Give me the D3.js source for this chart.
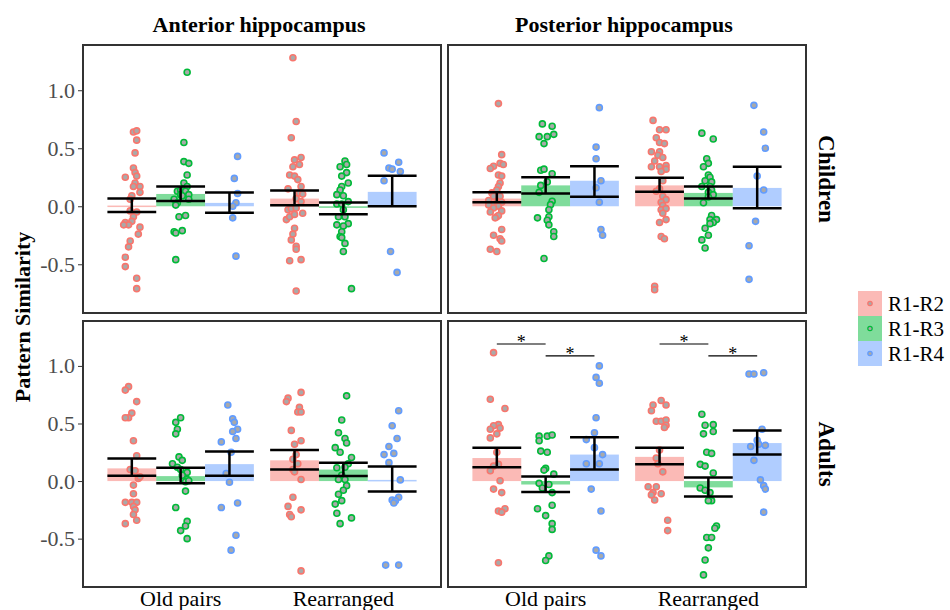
<!DOCTYPE html>
<html>
<head>
<meta charset="utf-8">
<script src="https://cdn.jsdelivr.net/npm/d3@7"></script>
<style>
  body { margin: 0; background: #fff; }
  svg { display: block; }
  svg text { font-family: "Liberation Serif", "DejaVu Serif", serif; }
</style>
</head>
<body>
<svg width="950" height="610"></svg>
<script>
const regions = ['Anterior hippocampus', 'Posterior hippocampus'];
const ageGroups = ['Children', 'Adults'];
const conditions = ['Old pairs', 'Rearranged'];
const comparisons = ['R1-R2', 'R1-R3', 'R1-R4'];
const colors = ['#F8766D', '#00BA38', '#619CFF'];
const yTicks = [-0.5, 0, 0.5, 1.0];

// order: Old pairs R1-R2, R1-R3, R1-R4, Rearranged R1-R2, R1-R3, R1-R4
const antChildMean = [0.006, 0.106, 0.029, 0.066, -0.014, 0.124];
const antChildLo   = [-0.049, 0.046, -0.055, 0.009, -0.069, 0.0];
const antChildHi   = [0.066, 0.17, 0.118, 0.135, 0.032, 0.264];

const postChildMean = [0.066, 0.18, 0.22, 0.18, 0.115, 0.158];
const postChildLo   = [0.035, 0.11, 0.083, 0.126, 0.066, -0.017];
const postChildHi   = [0.12, 0.25, 0.345, 0.245, 0.17, 0.34];

const antAdultMean = [0.11, 0.043, 0.147, 0.18, 0.10, 0.01];
const antAdultLo   = [0.046, -0.02, 0.046, 0.10, 0.043, -0.09];
const antAdultHi   = [0.197, 0.116, 0.257, 0.27, 0.16, 0.127];

const postAdultMean = [0.20, -0.03, 0.23, 0.21, -0.055, 0.33];
const postAdultLo   = [0.12, -0.095, 0.10, 0.145, -0.135, 0.23];
const postAdultHi   = [0.29, 0.04, 0.38, 0.29, 0.03, 0.44];

// individual subjects: [jitter, value]
const antChildPts = [
  [[.01,.64],[.03,.65],[.03,.57],[.02,.46],[.01,.33],[.02,.29],[.03,.26],[-.04,.25],[.02,.20],[.01,.17],[.05,.17],[.05,.12],[0,.09],[-.01,.06],[-.01,-.04],[.03,-.05],[.01,-.09],[0,-.13],[-.04,-.14],[-.02,-.16],[-.05,-.16],[.05,-.18],[.04,-.24],[-.01,-.30],[-.02,-.35],[-.04,-.44],[-.04,-.52],[.03,-.62],[.03,-.71]],
  [[.04,1.155],[.02,.55],[.02,.385],[.05,.37],[.04,.27],[.02,.20],[.04,.17],[-.02,.13],[0,.14],[.03,.13],[0,.10],[.05,.10],[.01,.09],[-.04,.06],[.05,.06],[-.02,.03],[-.03,.01],[.03,-.08],[-.01,-.09],[.01,-.21],[-.04,-.22],[-.03,-.23],[-.03,-.46]],
  [[.05,.43],[.03,.24],[.05,.11],[.04,.03],[.02,0],[.02,-.10],[.04,-.43]],
  [[-.01,1.28],[.01,.73],[-.02,.59],[.04,.42],[0,.40],[.03,.36],[-.01,.34],[-.03,.27],[0,.26],[.02,.23],[.04,.17],[-.04,.15],[.03,.115],[.05,.105],[.01,.066],[.04,.04],[-.04,-.03],[-.02,-.02],[.01,-.015],[.05,-.06],[-.05,-.115],[-.03,-.09],[0,-.07],[0,-.19],[-.01,-.24],[-.02,-.29],[.01,-.345],[.01,-.37],[.04,-.46],[-.03,-.47],[.01,-.73]],
  [[.01,.39],[.02,.36],[-.02,.34],[.02,.29],[-.01,.26],[.03,.20],[-.01,.17],[-.02,.14],[-.04,.10],[0,.09],[.03,.04],[-.04,.02],[-.01,.02],[0,-.03],[-.03,-.09],[.01,-.09],[.03,-.15],[-.04,-.16],[0,-.17],[-.01,-.22],[-.02,-.26],[-.01,-.27],[.01,-.32],[0,-.39],[.05,-.71]],
  [[-.05,.46],[.04,.38],[-.02,.33],[0,.32],[.05,.30],[-.05,.22],[-.01,-.39],[.03,-.57]]
];

const postChildPts = [
  [[.01,.885],[.03,.445],[.02,.37],[-.02,.345],[-.04,.325],[.04,.36],[.01,.27],[.03,.26],[.02,.20],[.01,.17],[-.03,.115],[0,.14],[-.02,.086],[.02,.086],[-.05,.05],[0,.034],[.03,.034],[-.03,.017],[-.05,.01],[.01,0],[-.02,-.015],[.03,-.04],[-.04,-.05],[0,-.09],[.01,-.08],[-.01,-.10],[.03,-.20],[-.02,-.25],[.02,-.28],[.03,-.30],[-.04,-.37],[0,-.39]],
  [[-.02,.71],[.04,.69],[-.04,.60],[.01,.60],[.05,.62],[-.01,.54],[-.03,.31],[-.01,.32],[.04,.28],[.01,.21],[-.03,.18],[-.04,.12],[.04,.043],[.03,.014],[.02,-.03],[.02,-.09],[-.05,-.10],[.01,-.12],[.02,-.16],[.05,-.22],[.05,-.26],[-.01,-.45]],
  [[.03,.85],[.01,.51],[.01,.41],[.04,.22],[.01,.16],[.03,.034],[.04,-.20],[.05,-.25]],
  [[-.04,.74],[0,.66],[.04,.66],[-.02,.59],[0,.55],[.03,.54],[-.05,.47],[0,.47],[-.01,.44],[.02,.42],[-.03,.39],[.04,.35],[-.05,.34],[0,.34],[.04,.32],[.01,.30],[.02,.22],[0,.15],[-.02,.13],[.02,.086],[.04,.057],[.01,.034],[.02,.006],[.01,-.03],[.04,-.02],[.02,-.06],[0,-.14],[.04,-.115],[.01,-.26],[.03,-.28],[-.03,-.69],[-.03,-.72]],
  [[-.04,.63],[.03,.58],[-.01,.41],[0,.37],[-.03,.34],[0,.27],[.01,.25],[-.02,.22],[.02,.21],[-.04,.17],[.01,.17],[.02,.14],[0,.12],[.03,.10],[0,.08],[-.03,.03],[.02,-.08],[.01,-.115],[.05,-.115],[.03,-.14],[.01,-.15],[-.02,-.19],[0,-.25],[-.04,-.29],[-.02,-.36]],
  [[-.02,.87],[.04,.64],[.05,.50],[0,.26],[.04,.14],[-.01,-.13],[-.05,-.34],[-.05,-.63]]
];

const antAdultPts = [
  [[-.02,.82],[-.04,.79],[.03,.69],[0,.59],[-.02,.55],[-.04,.55],[.01,.35],[.03,.22],[-.01,.10],[.02,.09],[.04,.023],[.05,.038],[.01,-.035],[.01,-.11],[-.04,-.185],[0,-.185],[.03,-.185],[.01,-.22],[.02,-.25],[.01,-.29],[.03,-.34],[-.04,-.37]],
  [[0,.55],[-.03,.51],[-.02,.45],[-.03,.41],[-.01,.21],[.01,.18],[-.05,.15],[-.02,.12],[0,.10],[.04,.075],[.01,.05],[.04,.014],[.03,-.006],[.05,.003],[.03,-.087],[-.03,-.23],[.04,-.35],[.03,-.39],[0,-.43],[.04,-.50]],
  [[-.01,.66],[.02,.54],[.03,.51],[.05,.45],[.02,.43],[.04,.37],[-.05,.34],[.01,.25],[-.02,.066],[0,-.01],[.05,-.19],[-.05,-.23],[.04,-.47],[.01,-.60]],
  [[.04,.77],[-.04,.72],[-.05,.69],[.03,.64],[.02,.60],[.04,.60],[-.02,.44],[.04,.35],[0,.32],[.01,.23],[-.01,.19],[.02,.15],[-.01,.10],[0,.08],[.04,.014],[-.01,-.14],[-.04,-.22],[-.03,-.29],[-.02,-.31],[.04,-.25],[.04,-.78]],
  [[.02,.74],[-.01,.53],[-.03,.42],[.01,.37],[.02,.33],[-.05,.29],[-.02,.25],[.05,.205],[.03,.15],[-.04,.115],[.01,.12],[-.01,.05],[-.03,.014],[.01,.014],[.02,-.04],[0,-.08],[-.03,-.115],[-.01,-.17],[-.05,-.20],[-.04,-.28],[.05,-.32],[-.02,-.37]],
  [[.04,.61],[0,.48],[.03,.37],[-.02,.30],[-.05,.23],[.01,.24],[-.02,.16],[.05,.01],[.04,-.14],[0,-.165],[.02,-.17],[.01,-.19],[-.04,-.73],[.04,-.73]]
];

const postAdultPts = [
  [[-.02,1.115],[-.04,.71],[.05,.63],[.01,.49],[-.02,.48],[-.04,.45],[.02,.46],[0,.41],[-.04,.375],[0,.25],[.01,.145],[-.02,.13],[-.04,.09],[.02,.003],[-.02,-.07],[.03,-.10],[.05,-.24],[.01,-.26],[.03,-.27],[.01,-.71]],
  [[-.04,.39],[.01,.39],[.04,.40],[-.04,.35],[-.03,.26],[.01,.25],[0,.11],[-.01,.095],[.05,.06],[-.04,-.02],[.02,-.03],[-.02,-.06],[.04,-.10],[.04,-.21],[-.05,-.24],[0,-.30],[.04,-.37],[.04,-.42],[.02,-.65],[0,-.69]],
  [[.03,1.00],[.01,.90],[.03,.85],[.01,.55],[0,.42],[-.05,.36],[0,.29],[.05,.23],[-.05,.15],[.03,.15],[-.02,-.07],[.04,-.26],[.01,-.60],[.04,-.65]],
  [[.01,.70],[-.04,.66],[.04,.66],[-.05,.61],[-.02,.52],[.01,.52],[.04,.53],[.04,.485],[.03,.465],[0,.27],[-.02,.20],[-.01,.15],[.02,.08],[-.07,-.05],[-.02,-.05],[-.04,-.10],[.01,-.11],[-.05,-.12],[-.03,-.165],[.05,-.34],[.05,-.43]],
  [[-.04,.58],[-.02,.485],[.03,.49],[-.03,.41],[.03,.43],[-.01,.25],[.02,.24],[-.05,.145],[-.02,.13],[.03,.07],[-.05,-.06],[-.02,-.08],[.01,-.10],[.02,-.17],[0,-.17],[.05,-.39],[.04,-.41],[-.01,-.49],[.02,-.49],[0,-.58],[-.02,-.685],[-.03,-.815]],
  [[-.05,.93],[-.02,.93],[.04,.94],[.03,.45],[0,.355],[-.04,.30],[.01,.32],[.05,.31],[-.02,.18],[.02,.01],[.04,-.04],[.05,-.07],[.04,-.27]]
];

// significance brackets (posterior hippocampus, adults)
const sigCondition = [0, 0, 1, 1];
const sigFrom = [0, 1, 0, 1];
const sigTo = [1, 2, 1, 2];
const sigY = [1.19, 1.087, 1.19, 1.087];

const panels = [
  { row: 0, col: 0, mean: antChildMean, lo: antChildLo, hi: antChildHi, pts: antChildPts },
  { row: 0, col: 1, mean: postChildMean, lo: postChildLo, hi: postChildHi, pts: postChildPts },
  { row: 1, col: 0, mean: antAdultMean, lo: antAdultLo, hi: antAdultHi, pts: antAdultPts },
  { row: 1, col: 1, mean: postAdultMean, lo: postAdultLo, hi: postAdultHi, pts: postAdultPts, sig: true }
];

const svg = d3.select('svg');
const font = '"Liberation Serif", "DejaVu Serif", serif';

const colX = [[83, 441], [448, 806]];
const rowY = [[45, 313], [321, 587]];
const yDomain = [-0.92, 1.39];
const dodge = 0.3;

// x position of a group (condition c, comparison k) in category units
const groupPos = (c, k) => (c + 1) + (k - 1) * dodge;

panels.forEach(p => {
  const [x0, x1] = colX[p.col];
  const [y0, y1] = rowY[p.row];
  const x = d3.scaleLinear().domain([0.4, 2.6]).range([x0, x1]);
  const y = d3.scaleLinear().domain(yDomain).range([y1, y0]);
  const g = svg.append('g');

  const bars = [];
  conditions.forEach((cond, c) => comparisons.forEach((cmp, k) => {
    const i = c * 3 + k;
    bars.push({ c, k, mean: p.mean[i], lo: p.lo[i], hi: p.hi[i], pts: p.pts[i] });
  }));

  // mean bars
  g.selectAll('rect.bar').data(bars).enter().append('rect')
    .attr('class', 'bar')
    .attr('x', d => x(groupPos(d.c, d.k) - dodge / 2))
    .attr('width', d => x(dodge) - x(0))
    .attr('y', d => Math.min(y(d.mean), y(0)))
    .attr('height', d => Math.max(Math.abs(y(d.mean) - y(0)), 1.5))
    .attr('fill', d => colors[d.k])
    .attr('fill-opacity', 0.5);

  // subject points
  bars.forEach(b => {
    g.selectAll(null).data(b.pts).enter().append('circle')
      .attr('cx', d => x(groupPos(b.c, b.k) + d[0]))
      .attr('cy', d => y(d[1]))
      .attr('r', 3)
      .attr('fill', '#a9a9a9')
      .attr('stroke', colors[b.k])
      .attr('stroke-width', 1.6);
  });

  // error bars
  const eb = g.selectAll('g.eb').data(bars).enter().append('g')
    .attr('stroke', '#000').attr('stroke-width', 2.5);
  eb.append('line')
    .attr('x1', d => x(groupPos(d.c, d.k) - dodge / 2))
    .attr('x2', d => x(groupPos(d.c, d.k) + dodge / 2))
    .attr('y1', d => y(d.hi)).attr('y2', d => y(d.hi));
  eb.append('line')
    .attr('x1', d => x(groupPos(d.c, d.k) - dodge / 2))
    .attr('x2', d => x(groupPos(d.c, d.k) + dodge / 2))
    .attr('y1', d => y(d.lo)).attr('y2', d => y(d.lo));
  eb.append('line')
    .attr('x1', d => x(groupPos(d.c, d.k)))
    .attr('x2', d => x(groupPos(d.c, d.k)))
    .attr('y1', d => y(d.lo)).attr('y2', d => y(d.hi));

  // significance
  if (p.sig) {
    sigY.forEach((v, i) => {
      const xa = x(groupPos(sigCondition[i], sigFrom[i]));
      const xb = x(groupPos(sigCondition[i], sigTo[i]));
      g.append('line')
        .attr('x1', xa).attr('x2', xb)
        .attr('y1', y(v)).attr('y2', y(v))
        .attr('stroke', '#000').attr('stroke-width', 1.1);
      g.append('text')
        .attr('x', (xa + xb) / 2).attr('y', y(v) + 4)
        .attr('text-anchor', 'middle')
        .attr('font-family', font)
        .style('font-size', '18px')
        .text('*');
    });
  }

  // panel border
  g.append('rect')
    .attr('x', x0).attr('y', y0)
    .attr('width', x1 - x0).attr('height', y1 - y0)
    .attr('fill', 'none').attr('stroke', '#333').attr('stroke-width', 2);

  // y axis on left column
  if (p.col === 0) {
    const ax = g.append('g')
      .attr('transform', `translate(${x0 - 1},0)`)
      .call(d3.axisLeft(y).tickValues(yTicks).tickFormat(d => d.toFixed(1)).tickSize(4).tickPadding(3));
    ax.attr('font-family', font);
    ax.select('.domain').remove();
    ax.selectAll('line').attr('stroke', '#333');
    ax.selectAll('text').attr('fill', '#4d4d4d').style('font-size', '22px');
  }

  // x labels on bottom row
  if (p.row === 1) {
    g.selectAll(null).data(conditions).enter().append('text')
      .attr('x', (d, i) => x(i + 1))
      .attr('y', y1 + 19)
      .attr('text-anchor', 'middle')
      .attr('font-family', font)
      .style('font-size', '22px')
      .attr('fill', '#000')
      .text(d => d);
  }

  // column titles
  if (p.row === 0) {
    svg.append('text')
      .attr('x', (x0 + x1) / 2 - 3).attr('y', 32)
      .attr('text-anchor', 'middle')
      .attr('font-family', font)
      .style('font-size', '22px').style('font-weight', 'bold')
      .text(regions[p.col]);
  }

  // row strips
  if (p.col === 1) {
    svg.append('text')
      .attr('transform', `translate(826,${(y0 + y1) / 2}) rotate(90)`)
      .attr('text-anchor', 'middle')
      .attr('dominant-baseline', 'central')
      .attr('font-family', font)
      .style('font-size', '23px').style('font-weight', 'bold')
      .text(ageGroups[p.row]);
  }
});

// y axis title
svg.append('text')
  .attr('transform', `translate(22,317) rotate(-90)`)
  .attr('text-anchor', 'middle')
  .attr('dominant-baseline', 'central')
  .attr('font-family', font)
  .style('font-size', '22px').style('font-weight', 'bold')
  .text('Pattern Similarity');

// legend
const legend = svg.append('g').attr('transform', 'translate(858,291)');
const item = legend.selectAll('g').data(comparisons).enter().append('g')
  .attr('transform', (d, i) => `translate(0,${i * 25})`);
item.append('rect')
  .attr('width', 24).attr('height', 25)
  .attr('fill', (d, i) => colors[i]).attr('fill-opacity', 0.5);
item.append('circle')
  .attr('cx', 12).attr('cy', 12.5).attr('r', 2.2)
  .attr('fill', '#a9a9a9')
  .attr('stroke', (d, i) => colors[i]).attr('stroke-width', 1.2);
item.append('text')
  .attr('x', 30).attr('y', 12.5)
  .attr('dominant-baseline', 'central')
  .attr('font-family', font)
  .style('font-size', '21px')
  .text(d => d);
</script>
</body>
</html>
